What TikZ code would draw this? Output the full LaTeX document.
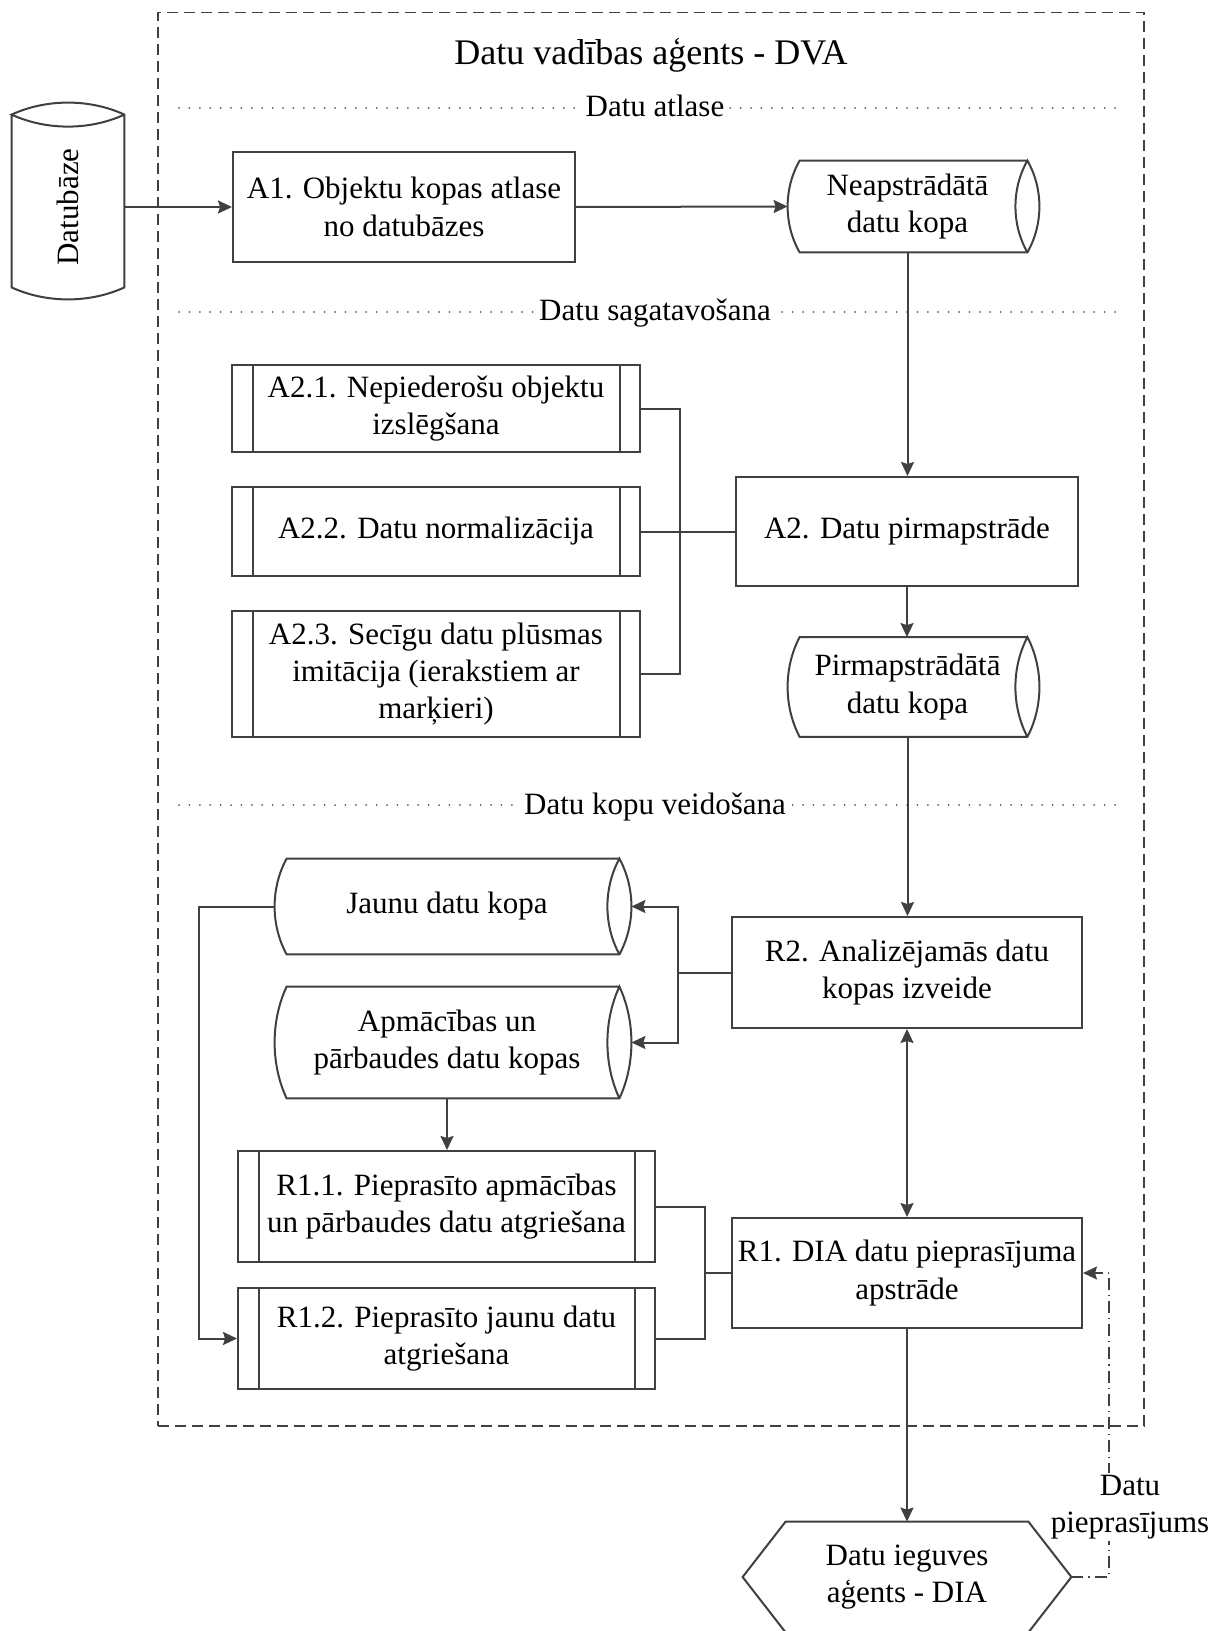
\documentclass[tikz,border=0pt]{standalone}
\usepackage{fontspec}
\setmainfont{Liberation Serif}
\usetikzlibrary{arrows.meta,calc}
\definecolor{lc}{HTML}{404040}
\newcommand{\dgbody}{\fontsize{15.5}{18.7}\selectfont}
\newcommand{\dgtitle}{\fontsize{18}{21.6}\selectfont}
\begin{document}
\begin{tikzpicture}[x=0.5pt, y=-0.5pt,
  every node/.style={font=\dgbody, text=black},
  ln/.style={draw=lc, line width=1pt},
  arr/.style={ln, -{Stealth[length=7pt,width=6.5pt,inset=1pt]}},
  dblarr/.style={ln, {Stealth[length=7pt,width=6.5pt,inset=1pt]}-{Stealth[length=7pt,width=6.5pt,inset=1pt]}},
  procbox/.style={ln, rectangle, align=center, inner sep=2pt},
  storebox/.style={rectangle, align=center, inner sep=2pt},
  sepline/.style={draw=lc!85, line width=1pt, line cap=round, dash pattern=on 0pt off 5.2pt},
  seclabel/.style={fill=white, inner sep=1.5pt, anchor=base},
  reqline/.style={draw=lc, line width=0.8pt, dash pattern=on 6pt off 2.5pt on 0.6pt off 2.5pt,
                  -{Stealth[length=7pt,width=6.5pt,inset=1pt]}}
]
\useasboundingbox (0,0) rectangle (1218,1631);

% agent frame, title and phase separators
\node[draw=lc, line width=0.8pt, dash pattern=on 5.5pt off 3pt,
      minimum width=493pt, minimum height=706.75pt, inner sep=0, outer sep=0] (dva) at (651,719.25) {};
\node[anchor=base, font=\dgtitle] (title) at (651,64.5) {Datu vadības aģents - DVA};

\draw[sepline] (179,108) -- (1123,108);
\node[seclabel] (sec1) at (655,117) {Datu atlase};
\draw[sepline] (179,312) -- (1123,312);
\node[seclabel] (sec2) at (655,321) {Datu sagatavošana};
\draw[sepline] (179,805) -- (1123,805);
\node[seclabel] (sec3) at (655,814) {Datu kopu veidošana};

% process boxes
\node[procbox, minimum width=171pt, minimum height=55pt] (a1) at (404,207) {A1. Objektu kopas atlase\\no datubāzes};
\node[procbox, minimum width=171pt, minimum height=54.5pt] (a2) at (907,531.5) {A2. Datu pirmapstrāde};
\node[procbox, minimum width=175pt, minimum height=55.5pt] (r2) at (907,972.5) {R2. Analizējamās datu\\kopas izveide};
\node[procbox, minimum width=175pt, minimum height=55pt] (r1) at (907,1273) {R1. DIA datu pieprasījuma\\apstrāde};

% predefined sub-processes
\node[procbox, minimum width=204pt, minimum height=43.5pt] (a21) at (436,408.5) {A2.1. Nepiederošu objektu\\izslēgšana};
\node[procbox, minimum width=204pt, minimum height=44.5pt] (a22) at (436,531.5) {A2.2. Datu normalizācija};
\node[procbox, minimum width=204pt, minimum height=63pt] (a23) at (436,674) {A2.3. Secīgu datu plūsmas\\imitācija (ierakstiem ar\\marķieri)};
\node[procbox, minimum width=208.5pt, minimum height=55.5pt] (r11) at (446.5,1206.5) {R1.1. Pieprasīto apmācības\\un pārbaudes datu atgriešana};
\node[procbox, minimum width=208.5pt, minimum height=50.5pt] (r12) at (446.5,1338.5) {R1.2. Pieprasīto jaunu datu\\atgriešana};
\foreach \n in {a21,a22,a23,r11,r12} {
  \draw[ln] ([xshift=10.75pt]\n.north west) -- ([xshift=10.75pt]\n.south west);
  \draw[ln] ([xshift=-10.75pt]\n.north east) -- ([xshift=-10.75pt]\n.south east);
}

% data stores
\node[storebox, minimum width=107.5pt, minimum height=45.5pt] (neap) at (907.5,206.5) {Neapstrādātā\\datu kopa};
\node[storebox, minimum width=107.5pt, minimum height=49.5pt] (pirm) at (907.5,687) {Pirmapstrādātā\\datu kopa};
\node[storebox, minimum width=160pt, minimum height=47.5pt] (jaunu) at (447,906.5) {Jaunu datu kopa};
\node[storebox, minimum width=160pt, minimum height=55.5pt] (apm) at (447,1042.5) {Apmācības un\\pārbaudes datu kopas};
\foreach \n/\h in {neap/45.5pt, pirm/49.5pt, jaunu/47.5pt, apm/55.5pt} {
  \draw[ln] ([xshift=6pt]\n.north east) -- (\n.north west)
    .. controls +(-8pt,{-0.31*\h}) and +(-8pt,{0.31*\h}) .. (\n.south west)
    -- ([xshift=6pt]\n.south east)
    .. controls +(8pt,{0.31*\h}) and +(8pt,{-0.31*\h}) .. ([xshift=6pt]\n.north east)
    .. controls +(-8pt,{-0.31*\h}) and +(-8pt,{0.31*\h}) .. ([xshift=6pt]\n.south east);
}

% database
\node[storebox, minimum width=56pt, minimum height=80pt] (db) at (68,207) {\rotatebox{90}{Datubāze}};
\draw[ln] ([yshift=6pt]db.north west) -- (db.south west)
  .. controls +(17.4pt,-8pt) and +(-17.4pt,-8pt) .. (db.south east)
  -- ([yshift=6pt]db.north east)
  .. controls +(-17.4pt,8pt) and +(17.4pt,8pt) .. ([yshift=6pt]db.north west)
  .. controls +(17.4pt,-8pt) and +(-17.4pt,-8pt) .. ([yshift=6pt]db.north east);

% data mining agent
\node[storebox, minimum width=121pt, minimum height=55pt] (dia) at (907,1577) {Datu ieguves\\aģents - DIA};
\draw[ln] (dia.north west) -- (dia.north east) -- ([xshift=21.5pt]dia.east) -- (dia.south east)
  -- (dia.south west) -- ([xshift=-21.5pt]dia.west) -- cycle;

% junction points
\coordinate (busA) at (680,531.5);
\coordinate (busR2) at (678,972.5);
\coordinate (busR1) at (705,1273);
\coordinate (loopc) at (199,1100);
\coordinate (reqc) at (1109,1400);

% connectors
\draw[arr] (db.east) -- (a1.west);
\draw[arr] (a1.east) -- ([xshift=-6pt]neap.west);
\draw[arr] (neap.south) -- (neap.south |- a2.north);
\draw[ln] (a21.east) -| (busA) |- (a23.east);
\draw[ln] (a22.east) -- (a2.west);
\draw[arr] (a2.south) -- (a2.south |- pirm.north);
\draw[arr] (pirm.south) -- (pirm.south |- r2.north);
\draw[arr] (r2.west) -- (busR2) |- ([xshift=12pt]jaunu.east);
\draw[arr] (busR2) |- ([xshift=12pt]apm.east);
\draw[arr] (apm.south) -- (apm.south |- r11.north);
\draw[arr] ([xshift=-6pt]jaunu.west) -| (loopc) |- (r12.west);
\draw[ln] (r11.east) -| (busR1) |- (r12.east);
\draw[ln] (r1.west) -- (busR1);
\draw[dblarr] (r2.south) -- (r1.north);
\draw[arr] (r1.south) -- (dia.north);
\draw[reqline] ([xshift=21.5pt]dia.east) -| (reqc) |- (r1.east);
\node[fill=white, align=center, inner sep=1pt] (reqlbl) at (1130,1507) {Datu\\pieprasījums};
\end{tikzpicture}
\end{document}
